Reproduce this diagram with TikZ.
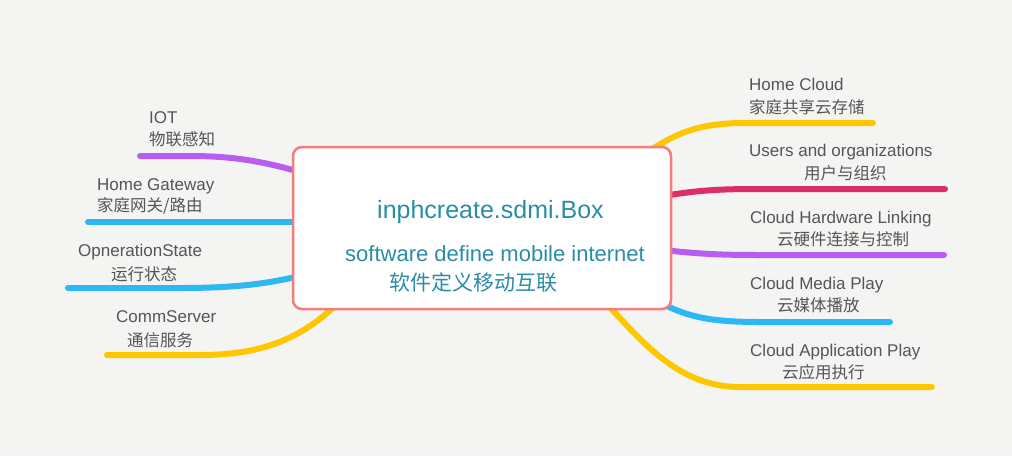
\documentclass[tikz,border=0pt]{standalone}
\usepackage{fontspec}
\setmainfont{Liberation Sans}
\newfontfamily\cjk{Noto Sans CJK SC}
\definecolor{bgcol}{HTML}{F4F5F2}
\definecolor{purp}{HTML}{B95DF0}
\definecolor{skyb}{HTML}{2CB7F5}
\definecolor{yell}{HTML}{FFC700}
\definecolor{magn}{HTML}{DC2D6B}
\definecolor{boxred}{HTML}{F27E7E}
\definecolor{tealtxt}{HTML}{2A8DA8}
\definecolor{txtgray}{HTML}{555555}
\pgfdeclarelayer{bglayer}
\pgfdeclarelayer{links}
\pgfsetlayers{bglayer,links,main}
\begin{document}
\begin{tikzpicture}[x=1pt,y=-1pt,
  lat/.style={anchor=base west, inner sep=0pt, text=txtgray, font=\fontsize{17}{20}\selectfont},
  han/.style={anchor=base west, inner sep=0pt, text=txtgray, font=\cjk\fontsize{16.5}{20}\selectfont},
  link/.style={line width=6pt, line cap=round},
  rootbox/.style={draw=boxred, line width=2.5pt, fill=white, rounded corners=9pt,
    minimum width=378pt, minimum height=162pt, inner sep=0pt},
  roottxt/.style={anchor=base west, inner sep=0pt, text=tealtxt}]
\useasboundingbox (0,0) rectangle (1012,456);
\begin{pgfonlayer}{bglayer}
\fill[bgcol] (0,0) rectangle (1012,456);
\end{pgfonlayer}

% central box
\node[rootbox] (root) at (482,228) {};
\node[roottxt, font=\fontsize{25}{28}\selectfont] (title) at (377,218) {inphcreate.sdmi.Box};
\node[roottxt, font=\fontsize{22}{26}\selectfont] (subtitle) at (345,261) {software define mobile internet};
\node[roottxt, font=\cjk\fontsize{21}{24}\selectfont] (subcn) at (389,290) {软件定义移动互联};

% labels left
\node[lat] (tIOT) at (149,123) {IOT};
\node[han] (cIOT) at (149,145) {物联感知};
\node[lat] (tHG) at (97,190) {Home Gateway};
\node[han] (cHG) at (97,211) {家庭网关/路由};
\node[lat] (tOS) at (78,256) {OpnerationState};
\node[han] (cOS) at (111,280) {运行状态};
\node[lat] (tCS) at (116,322) {CommServer};
\node[han] (cCS) at (127,346) {通信服务};

% labels right
\node[lat] (tHC) at (749,90) {Home Cloud};
\node[han] (cHC) at (749,113) {家庭共享云存储};
\node[lat] (tUO) at (749,156.5) {Users and organizations};
\node[han] (cUO) at (804,179) {用户与组织};
\node[lat] (tCH) at (750,223) {Cloud Hardware Linking};
\node[han] (cCH) at (777,245) {云硬件连接与控制};
\node[lat] (tCM) at (750,289) {Cloud Media Play};
\node[han] (cCM) at (777,311) {云媒体播放};
\node[lat] (tCA) at (750,356) {Cloud Application Play};
\node[han] (cCA) at (782,378) {云应用执行};

% connector end points
\coordinate (iotR) at (300,172);   \coordinate (iotL) at (140,156);
\coordinate (hgR) at (300,222);    \coordinate (hgL) at (88,222);
\coordinate (osR) at (300,276);    \coordinate (osL) at (68,288);
\coordinate (csR) at (338,303);    \coordinate (csL) at (107,355);
\coordinate (hcR) at (648,152);    \coordinate (hcE) at (873,123);
\coordinate (uoR) at (663,196);    \coordinate (uoE) at (945,189);
\coordinate (chR) at (663,250);    \coordinate (chE) at (944,255);
\coordinate (cmR) at (663,304);    \coordinate (cmE) at (890,322);
\coordinate (caR) at (605,302);    \coordinate (caE) at (932,387);

\begin{pgfonlayer}{links}
\draw[link,purp] (iotR) .. controls (265,162) and (235,156) .. (190,156) -- (iotL);
\draw[link,skyb] (hgR) -- (hgL);
\draw[link,skyb] (osR) .. controls (265,284) and (235,288) .. (180,288) -- (osL);
\draw[link,yell] (csR) .. controls (300,340) and (260,355) .. (200,355) -- (csL);
\draw[link,yell] (hcR) .. controls (680,130) and (705,123) .. (745,123) -- (hcE);
\draw[link,magn] (uoR) .. controls (700,190) and (720,189) .. (760,189) -- (uoE);
\draw[link,purp] (chR) .. controls (700,254) and (720,255) .. (760,255) -- (chE);
\draw[link,skyb] (cmR) .. controls (690,318) and (715,322) .. (760,322) -- (cmE);
\draw[link,yell] (caR) .. controls (645,345) and (680,387) .. (740,387) -- (caE);
\end{pgfonlayer}
\end{tikzpicture}
\end{document}
